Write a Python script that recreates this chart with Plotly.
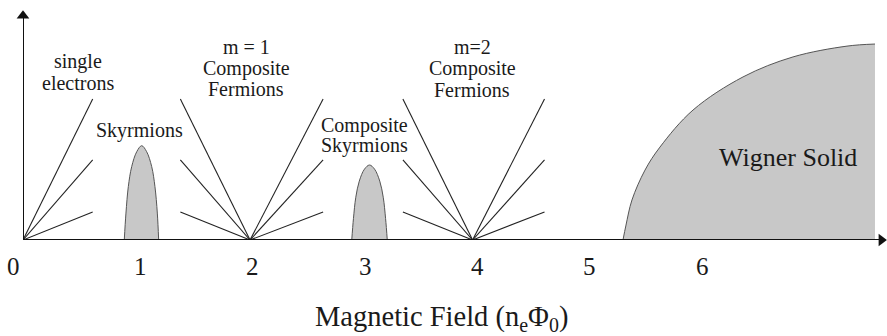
import plotly.graph_objects as go

# ---------------- data (x in field units n_e*Phi_0, y in relative energy units) ----------------
tick_values = [0, 1, 2, 3, 4, 5, 6]
tick_labels = ["0", "1", "2", "3", "4", "5", "6"]

# fan lines: vertex -> end points
fan_vertices = [0.0, 2.02, 4.0]
fan_left_ends = [None, 1.40, 3.38]
fan_right_ends = [0.62, 2.67, 4.64]
fan_heights = [0.613, 0.348, 0.122]

# Skyrmion dome near nu=1
sky1_x = [0.901, 0.916, 0.937, 0.967, 1.012, 1.056, 1.100, 1.145, 1.174, 1.195, 1.207]
sky1_y = [0.0, 0.117, 0.232, 0.319, 0.384, 0.410, 0.384, 0.319, 0.232, 0.117, 0.0]

# Composite skyrmion dome near 3
sky3_x = [2.925, 2.940, 2.961, 2.992, 3.038, 3.083, 3.128, 3.174, 3.205, 3.226, 3.241]
sky3_y = [0.0, 0.093, 0.186, 0.256, 0.308, 0.326, 0.308, 0.256, 0.186, 0.093, 0.0]

# Wigner solid boundary
wig_x = [5.338, 5.365, 5.418, 5.534, 5.667, 5.961, 6.406, 6.851, 7.331, 7.580]
wig_y = [0.0, 0.065, 0.174, 0.304, 0.404, 0.565, 0.709, 0.796, 0.843, 0.852]

# text labels: (lines, x centre, y of each line)
label_blocks = [
    (["single", "electrons"], 0.489, [0.776, 0.681]),
    (["Skyrmions"], 1.036, [0.478]),
    (["m = 1", "Composite", "Fermions"], 1.984, [0.841, 0.747, 0.655]),
    (["Composite", "Skyrmions"], 3.034, [0.500, 0.409]),
    (["m=2", "Composite", "Fermions"], 3.995, [0.841, 0.747, 0.651]),
]
wigner_label = ("Wigner Solid", 6.806, 0.357)
axis_title = "Magnetic Field (n<sub>e</sub>Φ<sub>0</sub>)"

# ---------------- figure ----------------
FONT = "Liberation Serif"
TXT = "#1a1a1a"
FILL = "#c8c8c8"
AX = "#111111"
X_MAX = 7.687
Y_MAX = 1.0

fig = go.Figure()

# fan lines
lx, ly = [], []
for v, le, re in zip(fan_vertices, fan_left_ends, fan_right_ends):
    for h in fan_heights:
        if le is not None:
            lx += [le, v, None]
            ly += [h, 0, None]
        lx += [v, re, None]
        ly += [0, h, None]
fig.add_trace(go.Scatter(x=lx, y=ly, mode="lines",
                         line=dict(color="#222222", width=1.1),
                         hoverinfo="skip", showlegend=False))

for xs, ys in [(sky1_x, sky1_y), (sky3_x, sky3_y), (wig_x, wig_y)]:
    fig.add_trace(go.Scatter(x=xs, y=ys, mode="lines", fill="tozeroy",
                             fillcolor=FILL,
                             line=dict(color="#555555", width=1, shape="spline", smoothing=1),
                             hoverinfo="skip", showlegend=False))

# axes lines (shapes) and arrowheads (markers)
fig.add_shape(type="line", xref="x", yref="y", x0=0, y0=0, x1=X_MAX - 0.05, y1=0,
              line=dict(color=AX, width=2))
fig.add_shape(type="line", xref="x", yref="y", x0=0, y0=0, x1=0, y1=Y_MAX - 0.03,
              line=dict(color=AX, width=2))
fig.add_trace(go.Scatter(x=[X_MAX - 0.05], y=[0], mode="markers", cliponaxis=False,
                         marker=dict(symbol="triangle-right", size=11, color=AX),
                         hoverinfo="skip", showlegend=False))
fig.add_trace(go.Scatter(x=[0], y=[Y_MAX - 0.025], mode="markers", cliponaxis=False,
                         marker=dict(symbol="triangle-up", size=11, color=AX),
                         hoverinfo="skip", showlegend=False))

ann = []
for lines, xc, ys in label_blocks:
    for t, yy in zip(lines, ys):
        ann.append(dict(x=xc, y=yy, xref="x", yref="y", text=t, showarrow=False,
                        font=dict(family=FONT, size=20, color=TXT),
                        xanchor="center", yanchor="middle"))

t, xc, yy = wigner_label
ann.append(dict(x=xc, y=yy, xref="x", yref="y", text=t, showarrow=False,
                font=dict(family=FONT, size=26, color=TXT),
                xanchor="center", yanchor="middle"))

# tick labels and title sit below the plot area -> paper y (plot spans y 0..1 = data 0..1)
for v, lab in zip(tick_values, tick_labels):
    ann.append(dict(x=v, y=-0.117, xref="x", yref="paper", text=lab, showarrow=False,
                    xshift=(-10 if v == 0 else 5),
                    font=dict(family=FONT, size=25, color=TXT),
                    xanchor="center", yanchor="middle"))

ann.append(dict(x=3.72, y=-0.343, xref="x", yref="paper", text=axis_title, showarrow=False,
                font=dict(family=FONT, size=28.5, color=TXT),
                xanchor="center", yanchor="middle"))

fig.update_layout(
    width=887, height=336,
    margin=dict(l=23, r=0, t=10, b=96),
    paper_bgcolor="white", plot_bgcolor="white",
    xaxis=dict(range=[0, X_MAX], visible=False, fixedrange=True),
    yaxis=dict(range=[0, Y_MAX], visible=False, fixedrange=True),
    annotations=ann,
    showlegend=False,
)

fig.write_html("out.html", config={"displayModeBar": False})
